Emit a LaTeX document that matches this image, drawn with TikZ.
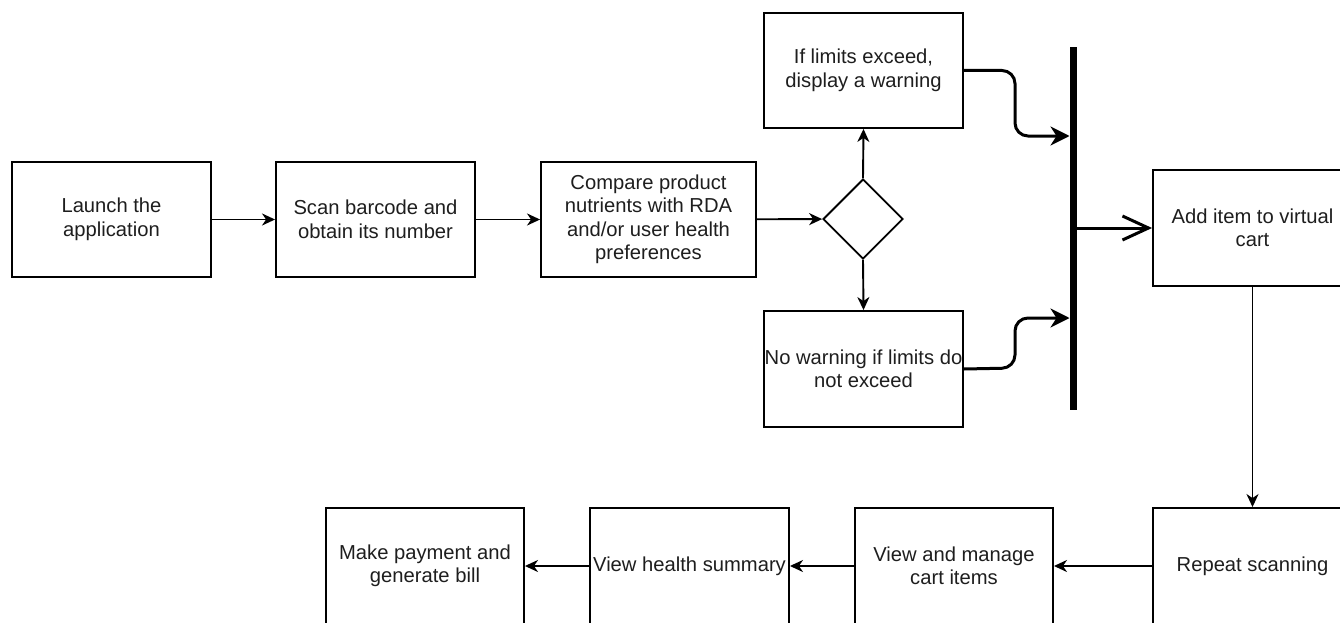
\documentclass[tikz,border=0pt]{standalone}
\usepackage{fontspec}
\setmainfont{Liberation Sans}
\usetikzlibrary{arrows.meta,shapes.geometric}
\definecolor{txt}{HTML}{1E1E1E}
\tikzset{
  box/.style={draw, line width=1.9pt, minimum width=199pt, minimum height=115pt, inner sep=0pt, align=center, text=txt, font=\fontsize{20.2}{23.5}\selectfont},
  arr/.style={-{Stealth[length=13pt,width=12pt,inset=4pt]}, line width=1.9pt},
  curv/.style={-{Stealth[length=19pt,width=19pt,inset=6pt]}, line width=3pt, rounded corners=13pt},
  openarr/.style={-{Straight Barb[length=26pt,width=24pt]}, line width=3pt},
}
\begin{document}
\begin{tikzpicture}[x=1pt,y=-1pt]
\useasboundingbox (0,0) rectangle (1340,623);
\clip (0,0) rectangle (1340,623);
\fill[white] (0,0) rectangle (1340,623);

\node[box] (launch) at (111.5,219.5) {Launch the\\application};
\node[box] (scan) at (375.5,219.5) {Scan barcode and\\obtain its number};
\node[box, minimum width=215pt] (compare) at (648.5,219.5) {Compare product\\nutrients with RDA\\and/or user health\\preferences};
\node[draw, diamond, line width=1.9pt, minimum width=80pt, minimum height=80pt, inner sep=0pt] (dec) at (863,219) {};
\node[box] (warn) at (863.5,70.5) {If limits exceed,\\display a warning};
\node[box, minimum height=116pt] (nowarn) at (863.5,369) {No warning if limits do\\not exceed};
\node[fill=black, minimum width=7pt, minimum height=363pt, inner sep=0pt] (bar) at (1073,228.5) {};
\node[box, minimum height=116pt] (add) at (1252.5,228) {Add item to virtual\\cart};
\node[box, minimum height=116pt] (repeat) at (1252.5,566) {Repeat scanning};
\node[box, minimum width=198pt, minimum height=116pt] (manage) at (954,566) {View and manage\\cart items};
\node[box, minimum height=116pt] (health) at (689.5,566) {View health summary};
\node[box, minimum width=198pt, minimum height=116pt] (pay) at (425,566) {Make payment and\\generate bill};

\coordinate (win) at (1069.5,136);
\coordinate (nin) at (1069.5,318);

\draw[arr] (launch) -- (scan);
\draw[arr] (scan) -- (compare);
\draw[arr] (compare) -- (dec);
\draw[arr] (dec.north) -- (warn.south);
\draw[arr] (dec.south) -- (nowarn.north);
\draw[curv] (warn.east) -- (1015,70.5) -- (1015,136) -- (win);
\draw[curv] (nowarn.east) -- (1015,368) -- (1015,318) -- (nin);
\draw[openarr] (bar.center |- add.west) -- (add.west);
\draw[arr] (add.south) -- (repeat.north);
\draw[arr] (repeat) -- (manage);
\draw[arr] (manage) -- (health);
\draw[arr] (health) -- (pay);
\end{tikzpicture}
\end{document}
